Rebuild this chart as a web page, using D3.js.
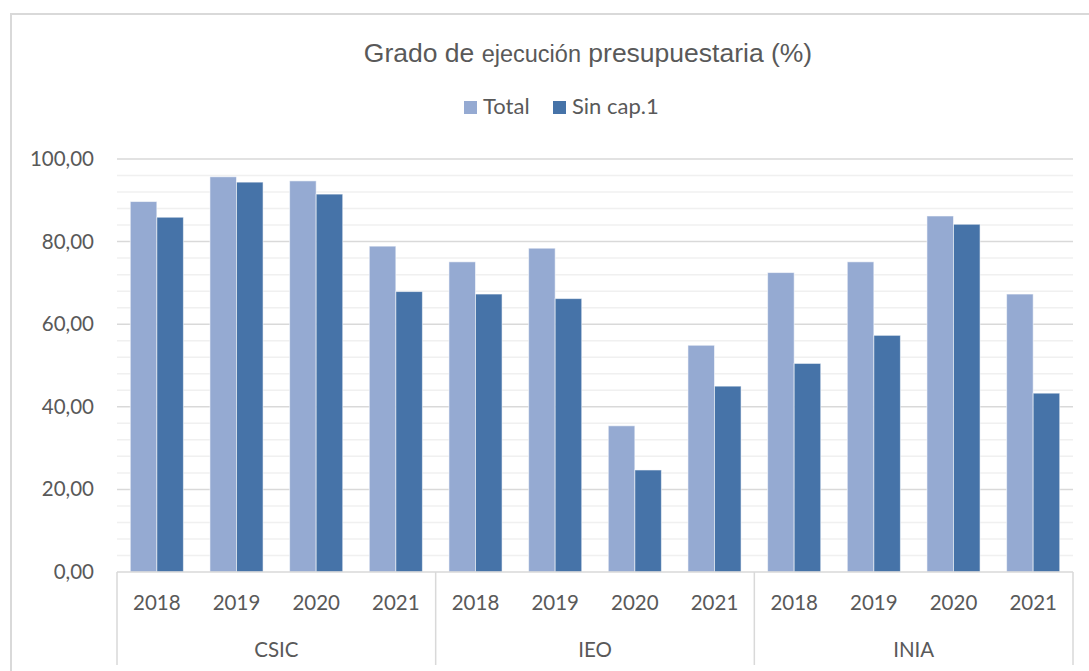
<!DOCTYPE html>
<html>
<head>
<meta charset="utf-8">
<script src="https://cdn.jsdelivr.net/npm/d3@7"></script>
<style>
  body { margin: 0; background: #fff; }
  text { font-family: Lato, "Open Sans", sans-serif; fill: #595959; }
</style>
</head>
<body>
<div id="chart"></div>
<script>
const groups = ["CSIC", "IEO", "INIA"];
const years = ["2018", "2019", "2020", "2021"];
const seriesNames = ["Total", "Sin cap.1"];
const totalValues = [89.7, 95.7, 94.7, 78.9, 75.1, 78.4, 35.4, 54.9, 72.5, 75.1, 86.2, 67.3];
const sinCapValues = [85.9, 94.4, 91.5, 67.9, 67.3, 66.2, 24.7, 45.0, 50.5, 57.3, 84.2, 43.3];
const yTicks = [0, 20, 40, 60, 80, 100];

const colors = ["#95aad2", "#4673a8"];
const width = 1089, height = 671;

// one row per bar category (group + year)
const rows = [];
groups.forEach((g, gi) => years.forEach((y, yi) => {
  const i = gi * years.length + yi;
  rows.push({ key: g + "-" + y, group: g, year: y, values: [totalValues[i], sinCapValues[i]] });
}));

const svg = d3.select("#chart").append("svg")
  .attr("width", width).attr("height", height);

// chart frame
svg.append("rect")
  .attr("x", 11).attr("y", 14)
  .attr("width", width + 10).attr("height", height + 10)
  .attr("fill", "none").attr("stroke", "#d9d9d9").attr("stroke-width", 2);

const plot = { left: 117, right: 1073, top: 159, bottom: 572 };

const x0 = d3.scaleBand().domain(rows.map(d => d.key))
  .range([plot.left, plot.right]).padding(0);
const x1 = d3.scaleBand().domain(seriesNames)
  .range([0, x0.bandwidth()]).paddingInner(0).paddingOuter(0.5);
const y = d3.scaleLinear().domain([0, 100]).range([plot.bottom, plot.top]);

// minor gridlines
svg.append("g")
  .selectAll("line")
  .data(d3.range(4, 100, 4).filter(v => v % 20 !== 0))
  .enter().append("line")
  .attr("x1", plot.left).attr("x2", plot.right)
  .attr("y1", d => y(d)).attr("y2", d => y(d))
  .attr("stroke", "#f0f0f0").attr("stroke-width", 1.5);

// major gridlines
svg.append("g")
  .selectAll("line")
  .data(yTicks.filter(v => v > 0))
  .enter().append("line")
  .attr("x1", plot.left).attr("x2", plot.right)
  .attr("y1", d => y(d)).attr("y2", d => y(d))
  .attr("stroke", "#d9d9d9").attr("stroke-width", 1.5);

// y axis labels
const fmt = v => d3.format(".2f")(v).replace(".", ",");
const yAxis = d3.axisLeft(y).tickValues(yTicks).tickFormat(fmt).tickSize(0).tickPadding(23);
const yg = svg.append("g").attr("transform", `translate(${plot.left},0)`).call(yAxis);
yg.select(".domain").remove();
yg.selectAll("text").style("font-size", "20.5px").attr("fill", "#595959")
  .style("font-family", "Lato, sans-serif");

// bars
const cat = svg.append("g").selectAll("g")
  .data(rows).enter().append("g")
  .attr("transform", d => `translate(${x0(d.key)},0)`);

cat.selectAll("rect")
  .data(d => d.values.map((v, i) => ({ name: seriesNames[i], value: v, i })))
  .enter().append("rect")
  .attr("x", d => x1(d.name))
  .attr("y", d => y(d.value))
  .attr("width", x1.bandwidth())
  .attr("height", d => y(0) - y(d.value))
  .attr("fill", d => colors[d.i])
  .attr("stroke", "#ffffff").attr("stroke-opacity", 0.55).attr("stroke-width", 1);

// category axis (two levels)
const axisColor = "#d9d9d9";
svg.append("line")
  .attr("x1", plot.left).attr("x2", plot.right)
  .attr("y1", plot.bottom).attr("y2", plot.bottom)
  .attr("stroke", axisColor).attr("stroke-width", 1.5);

const groupEdges = groups.map((g, gi) => x0(g + "-" + years[0])).concat([plot.right]);
svg.append("g").selectAll("line")
  .data(groupEdges).enter().append("line")
  .attr("x1", d => d).attr("x2", d => d)
  .attr("y1", plot.bottom).attr("y2", 665)
  .attr("stroke", axisColor).attr("stroke-width", 1.5);

svg.append("g").selectAll("text")
  .data(rows).enter().append("text")
  .attr("x", d => x0(d.key) + x0.bandwidth() / 2)
  .attr("y", 610)
  .attr("text-anchor", "middle")
  .style("font-size", "20.5px")
  .text(d => d.year);

svg.append("g").selectAll("text")
  .data(groups).enter().append("text")
  .attr("x", (g, gi) => (groupEdges[gi] + groupEdges[gi + 1]) / 2)
  .attr("y", 657)
  .attr("text-anchor", "middle")
  .style("font-size", "20.5px")
  .text(d => d);

// title
const title = svg.append("text")
  .attr("x", 588).attr("y", 62)
  .attr("text-anchor", "middle")
  .style("font-family", "'Liberation Sans', Arial, sans-serif")
  .style("font-size", "26.5px");
title.append("tspan").text("Grado de ");
title.append("tspan").style("font-size", "23.5px").text("ejecución");
title.append("tspan").text(" presupuestaria (%)");

// legend
const legend = svg.append("g");
const legendItems = [{ x: 464, name: seriesNames[0] }, { x: 553, name: seriesNames[1] }];
legendItems.forEach((d, i) => {
  legend.append("rect")
    .attr("x", d.x).attr("y", 101)
    .attr("width", 13).attr("height", 13)
    .attr("fill", colors[i]);
  legend.append("text")
    .attr("x", d.x + 19).attr("y", 114)
    .style("font-size", "22px")
    .text(d.name);
});
</script>
</body>
</html>
